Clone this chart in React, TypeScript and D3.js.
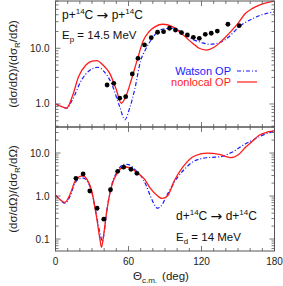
import { useEffect, useRef } from 'react'
import * as d3 from 'd3'

const W = 283, H = 286
const X0 = 55.5, X1 = 274.5
const FONT = 'Liberation Sans, Arial, Helvetica, sans-serif'

// panel geometry (log y)
const PANELS = [
  { key: 'p', y0: 1,   y1: 127, lo: 0.386,  hi: 70.6, majors: [1, 10],      labels: ['1.0', '10.0'] },
  { key: 'd', y0: 127, y1: 251, lo: 0.0527, hi: 40.3, majors: [0.1, 1, 10], labels: ['0.1', '1.0', '10.0'] },
]

const X_TICKS = [0, 60, 120, 180]

// p + 14C, Ep = 14.5 MeV
const P_NONLOCAL_DEG = [0, 5, 9, 14, 19, 25, 30, 34, 39, 44.6, 50, 54, 58, 62.3, 67, 72, 77, 82, 88, 96, 104, 112.7, 118, 124, 130, 135, 140, 145, 150, 156, 162, 168, 174, 180]
const P_NONLOCAL_VAL = [1.0, 0.9, 0.84, 1.4, 3.1, 5.0, 5.9, 6.0, 5.0, 3.55, 1.8, 1.03, 1.4, 2.7, 6.0, 13.5, 20, 24.5, 27, 24.5, 18, 12.3, 10, 9.3, 10.3, 12.5, 16.1, 21, 28, 42, 52, 60, 66, 70]
const P_WATSON_DEG = [0, 5, 9, 14, 21.4, 28, 35, 40, 46, 52.8, 57, 61, 65, 70, 74, 78, 85.5, 90, 96, 104, 112.7, 120, 127, 133, 140, 146, 151, 156, 162, 168, 173, 180]
const P_WATSON_VAL = [1.0, 0.9, 0.84, 1.2, 2.7, 4.0, 4.56, 3.8, 2.35, 0.89, 0.52, 0.85, 1.78, 6, 9.5, 13.5, 21, 22.5, 22.9, 19.5, 14.5, 12.7, 11.8, 12.3, 14.5, 19, 24.5, 29, 34, 39, 42, 45]
const P_DATA_DEG = [42.4, 47.9, 52.8, 57.7, 63.1, 67.8, 73.2, 78.7, 83.9, 88.8, 93.7, 98.6, 103.5, 108.4, 113.3, 118.2, 123.1, 128, 133, 141.7, 151]
const P_DATA_VAL = [2.19, 2.35, 1.27, 1.35, 3.46, 6.6, 11.5, 15.5, 19.4, 19.9, 22.9, 21.3, 19.1, 17.3, 15.7, 15.1, 17.8, 18.6, 20.4, 27, 25.5]

// d + 14C, Ed = 14 MeV
const D_NONLOCAL_DEG = [0, 4, 7.8, 12, 16, 20, 22.7, 26, 29.6, 33.7, 36.5, 37.8, 39.5, 41.9, 46, 51.4, 56.9, 62, 67.8, 73, 78, 84, 87.5, 92, 97.7, 104.6, 112.7, 119, 125, 134.6, 144, 150, 156.4, 162, 167.3, 173, 178, 180]
const D_NONLOCAL_VAL = [1.05, 0.82, 0.71, 1.1, 2.2, 2.85, 2.95, 2.4, 1.38, 0.33, 0.1, 0.064, 0.12, 0.4, 1.65, 3.68, 4.8, 4.4, 3.37, 2.5, 1.5, 1.0, 0.88, 1.0, 2.3, 4.7, 8.1, 9.5, 10, 9.3, 7.8, 9.0, 13.8, 19, 25.8, 30, 32.5, 33.5]
const D_WATSON_DEG = [0, 4, 7.8, 12, 16, 20, 23, 26, 29.6, 33.7, 37, 38.5, 40, 42, 46, 51.4, 57, 60, 65, 70, 74, 78, 81, 84, 87, 92, 100.5, 106, 112.7, 118, 125, 131, 137.3, 142, 148, 153, 159, 165, 170, 175, 180]
const D_WATSON_VAL = [1.05, 0.8, 0.68, 1.0, 2.0, 2.55, 2.6, 2.2, 1.3, 0.35, 0.12, 0.087, 0.14, 0.42, 1.7, 4.0, 5.5, 5.4, 4.2, 3.0, 1.9, 1.0, 0.65, 0.52, 0.6, 1.1, 2.76, 4.2, 6.2, 7.2, 7.8, 8.0, 8.4, 9.5, 11.6, 14.5, 18, 22, 25.8, 29, 32]
const D_DATA_DEG = [16.8, 22.7, 28.2, 34.2, 39.7, 45.2, 51.1, 56, 62, 66.9]
const D_DATA_VAL = [2.58, 3.25, 1.31, 0.52, 0.29, 1.40, 3.75, 4.7, 4.2, 3.37]

const RED = '#ff1a1a', BLUE = '#1a1aff'

const zip = (a: number[], b: number[]) => a.map((x, i) => [x, b[i]] as [number, number])

const SERIES = {
  p: { nonlocal: zip(P_NONLOCAL_DEG, P_NONLOCAL_VAL), watson: zip(P_WATSON_DEG, P_WATSON_VAL), data: zip(P_DATA_DEG, P_DATA_VAL) },
  d: { nonlocal: zip(D_NONLOCAL_DEG, D_NONLOCAL_VAL), watson: zip(D_WATSON_DEG, D_WATSON_VAL), data: zip(D_DATA_DEG, D_DATA_VAL) },
}

export default function App() {
  const svgRef = useRef<SVGSVGElement>(null)

  useEffect(() => {
    const svg = d3.select(svgRef.current!)
    svg.selectAll('*').remove()

    const x = d3.scaleLinear().domain([0, 180]).range([X0, X1])

    PANELS.forEach(p => {
      const y = d3.scaleLog().domain([p.lo, p.hi]).range([p.y1, p.y0])
      const s = SERIES[p.key as 'p' | 'd']

      const clipId = `clip-${p.key}`
      svg.append('clipPath').attr('id', clipId)
        .append('rect').attr('x', X0).attr('y', p.y0).attr('width', X1 - X0).attr('height', p.y1 - p.y0)

      const g = svg.append('g').attr('clip-path', `url(#${clipId})`)
      const line = d3.line<[number, number]>().x(d => x(d[0])).y(d => y(d[1])).curve(d3.curveMonotoneX)

      g.append('path').attr('d', line(s.watson)!)
        .attr('fill', 'none').attr('stroke', BLUE).attr('stroke-width', 1.2).attr('stroke-dasharray', '4 2 1 2')
      g.append('path').attr('d', line(s.nonlocal)!)
        .attr('fill', 'none').attr('stroke', RED).attr('stroke-width', 1.3)

      g.selectAll('circle.pt').data(s.data).join('circle').attr('class', 'pt')
        .attr('cx', d => x(d[0])).attr('cy', d => y(d[1])).attr('r', 2.4).attr('fill', '#000')

      // frame
      svg.append('rect').attr('x', X0).attr('y', p.y0).attr('width', X1 - X0).attr('height', p.y1 - p.y0)
        .attr('fill', 'none').attr('stroke', '#555').attr('stroke-width', 1)

      // x ticks on both edges
      const tk = svg.append('g').attr('stroke', '#555').attr('stroke-width', 0.8)
      d3.range(0, 181, 10).forEach(v => {
        const len = v % 60 === 0 ? 5 : 3
        const xx = x(v)
        tk.append('line').attr('x1', xx).attr('x2', xx).attr('y1', p.y1).attr('y2', p.y1 - len)
        tk.append('line').attr('x1', xx).attr('x2', xx).attr('y1', p.y0).attr('y2', p.y0 + len)
      })

      // y ticks (log, both sides)
      const yt: { v: number; major: boolean }[] = []
      for (let e = -2; e <= 2; e++) {
        for (let m = 1; m <= 9; m++) {
          const v = m * Math.pow(10, e)
          if (v >= p.lo && v <= p.hi) yt.push({ v, major: m === 1 })
        }
      }
      yt.forEach(t => {
        const yy = y(t.v)
        const len = t.major ? 5 : 3
        tk.append('line').attr('x1', X0).attr('x2', X0 + len).attr('y1', yy).attr('y2', yy)
        tk.append('line').attr('x1', X1).attr('x2', X1 - len).attr('y1', yy).attr('y2', yy)
      })

      p.majors.forEach((v, i) => {
        svg.append('text').attr('x', X0 - 6).attr('y', y(v) + 3.5)
          .attr('text-anchor', 'end').attr('font-size', 10).attr('font-family', FONT).attr('fill', '#222')
          .text(p.labels[i])
      })

      // y axis title
      const cy = (p.y0 + p.y1) / 2
      const yl = svg.append('text')
        .attr('transform', `translate(17,${cy}) rotate(-90)`)
        .attr('text-anchor', 'middle').attr('font-size', 11.5).attr('font-family', FONT).attr('fill', '#222')
      yl.append('tspan').text('(dσ/dΩ)/(dσ')
      yl.append('tspan').attr('font-size', 8).attr('dy', 3).text('R')
      yl.append('tspan').attr('dy', -3).text('/dΩ)')
    })

    // x tick labels
    X_TICKS.forEach(v => {
      svg.append('text').attr('x', x(v)).attr('y', 265)
        .attr('text-anchor', 'middle').attr('font-size', 10).attr('font-family', FONT).attr('fill', '#222')
        .text(String(v))
    })

    const xl = svg.append('text').attr('x', 133).attr('y', 280)
      .attr('font-size', 11.5).attr('font-family', FONT).attr('fill', '#222')
    xl.append('tspan').text('Θ')
    xl.append('tspan').attr('font-size', 8).attr('dy', 3).text('c.m.')
    xl.append('tspan').attr('dy', -3).attr('dx', 5).text('(deg)')

    // reaction annotations
    const reaction = (x0: number, y0: number, a: string) => {
      const t = svg.append('text').attr('x', x0).attr('y', y0)
        .attr('font-size', 12).attr('font-family', FONT).attr('fill', '#111')
      t.append('tspan').text(`${a}+`)
      t.append('tspan').attr('font-size', 8).attr('dy', -5).text('14')
      t.append('tspan').attr('dy', 5).text('C ')
      t.append('tspan').attr('font-family', 'DejaVu Sans, sans-serif').attr('font-size', 14).attr('dy', 0.5).text('→')
      t.append('tspan').attr('dy', -0.5).text(` ${a}+`)
      t.append('tspan').attr('font-size', 8).attr('dy', -5).text('14')
      t.append('tspan').attr('dy', 5).text('C')
    }
    const energy = (x0: number, y0: number, a: string, e: string) => {
      const t = svg.append('text').attr('x', x0).attr('y', y0)
        .attr('font-size', 11.5).attr('font-family', FONT).attr('fill', '#111')
      t.append('tspan').text('E')
      t.append('tspan').attr('font-size', 8).attr('dy', 3).text(a)
      t.append('tspan').attr('dy', -3).text(` = ${e} MeV`)
    }
    reaction(62, 19, 'p')
    energy(62, 39, 'p', '14.5')
    reaction(176, 220, 'd')
    energy(176, 241, 'd', '14')

    // legend
    const LEG = [
      { label: 'Watson OP',   color: BLUE, dash: '4 2 1 2', y: 75 },
      { label: 'nonlocal OP', color: RED,  dash: '',        y: 86 },
    ]
    LEG.forEach(l => {
      svg.append('text').attr('x', 231).attr('y', l.y)
        .attr('text-anchor', 'end').attr('font-size', 11).attr('font-family', FONT).attr('fill', l.color)
        .text(l.label)
      svg.append('line').attr('x1', 237).attr('x2', 257).attr('y1', l.y - 4).attr('y2', l.y - 4)
        .attr('stroke', l.color).attr('stroke-width', 1.2).attr('stroke-dasharray', l.dash || null)
    })
  }, [])

  return (
    <svg ref={svgRef} width={W} height={H}
      style={{ position: 'absolute', left: 0, top: 0, background: '#fff' }} />
  )
}
